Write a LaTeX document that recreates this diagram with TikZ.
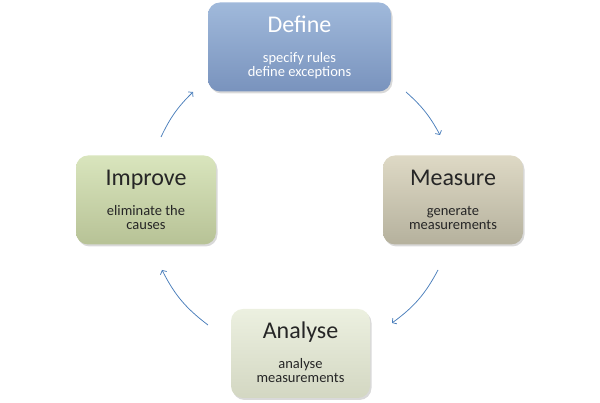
\documentclass[tikz,border=0pt]{standalone}
\usepackage{fontspec}
\setmainfont{Carlito}
\usepackage{tikz}
\usetikzlibrary{arrows.meta, shadows}

\definecolor{defTop}{RGB}{160,185,219}
\definecolor{defBot}{RGB}{121,147,189}
\definecolor{meaTop}{RGB}{222,217,197}
\definecolor{meaBot}{RGB}{181,177,157}
\definecolor{anaTop}{RGB}{236,240,224}
\definecolor{anaBot}{RGB}{211,215,194}
\definecolor{impTop}{RGB}{217,229,189}
\definecolor{impBot}{RGB}{183,194,150}
\definecolor{darkText}{RGB}{38,38,38}
\definecolor{arrowBlue}{RGB}{74,126,187}

\tikzset{
  stage/.style={rounded corners=12pt, inner sep=0pt, minimum height=89pt,
    drop shadow={shadow xshift=1.5pt, shadow yshift=-2pt, fill=black!50, opacity=.3}},
  stagetitle/.style={anchor=base, inner sep=0pt, font=\fontsize{24}{28}\selectfont},
  stagetext/.style={anchor=base, inner sep=0pt, font=\fontsize{14.5}{16}\selectfont},
  cyc/.style={draw=arrowBlue, line width=0.75pt, -{Straight Barb[length=3pt,width=7pt]}}
}

\begin{document}
\begin{tikzpicture}[x=1pt, y=1pt]
  \useasboundingbox (0,0) rectangle (600,403);

  % the four stages
  \foreach \sname/\sx/\sy/\swidth/\scol/\stext/\shead/\slinea/\slineb in {
    define/299.5/356/183/def/white/Define/specify rules/define exceptions,
    measure/453/203/140/mea/darkText/Measure/generate/measurements,
    analyse/300.5/49.5/139/ana/darkText/Analyse/analyse/measurements,
    improve/146/203/140/imp/darkText/Improve/eliminate the/causes
  }{
    \node[stage, minimum width=\swidth pt, top color=\scol Top, bottom color=\scol Bot] (\sname) at (\sx,\sy) {};
    \node[stagetitle, text=\stext] (\sname-t) at (\sx,\sy+14.5) {\shead};
    \node[stagetext, text=\stext] (\sname-a) at (\sx,\sy-15.5) {\slinea};
    \node[stagetext, text=\stext] (\sname-b) at (\sx,\sy-29.5) {\slineb};
  }

  % ends of the cycle arrows
  \coordinate (dm1) at (406,311);
  \coordinate (dm2) at (440,268);
  \coordinate (ma1) at (438,133);
  \coordinate (ma2) at (392,80);
  \coordinate (ai1) at (208,78);
  \coordinate (ai2) at (162,133);
  \coordinate (id1) at (161,266);
  \coordinate (id2) at (193,311);

  \draw[cyc] (dm1) to[bend left=10] (dm2);
  \draw[cyc] (ma1) to[bend left=13] (ma2);
  \draw[cyc] (ai1) to[bend left=13] (ai2);
  \draw[cyc] (id1) to[bend left=10] (id2);
\end{tikzpicture}
\end{document}
